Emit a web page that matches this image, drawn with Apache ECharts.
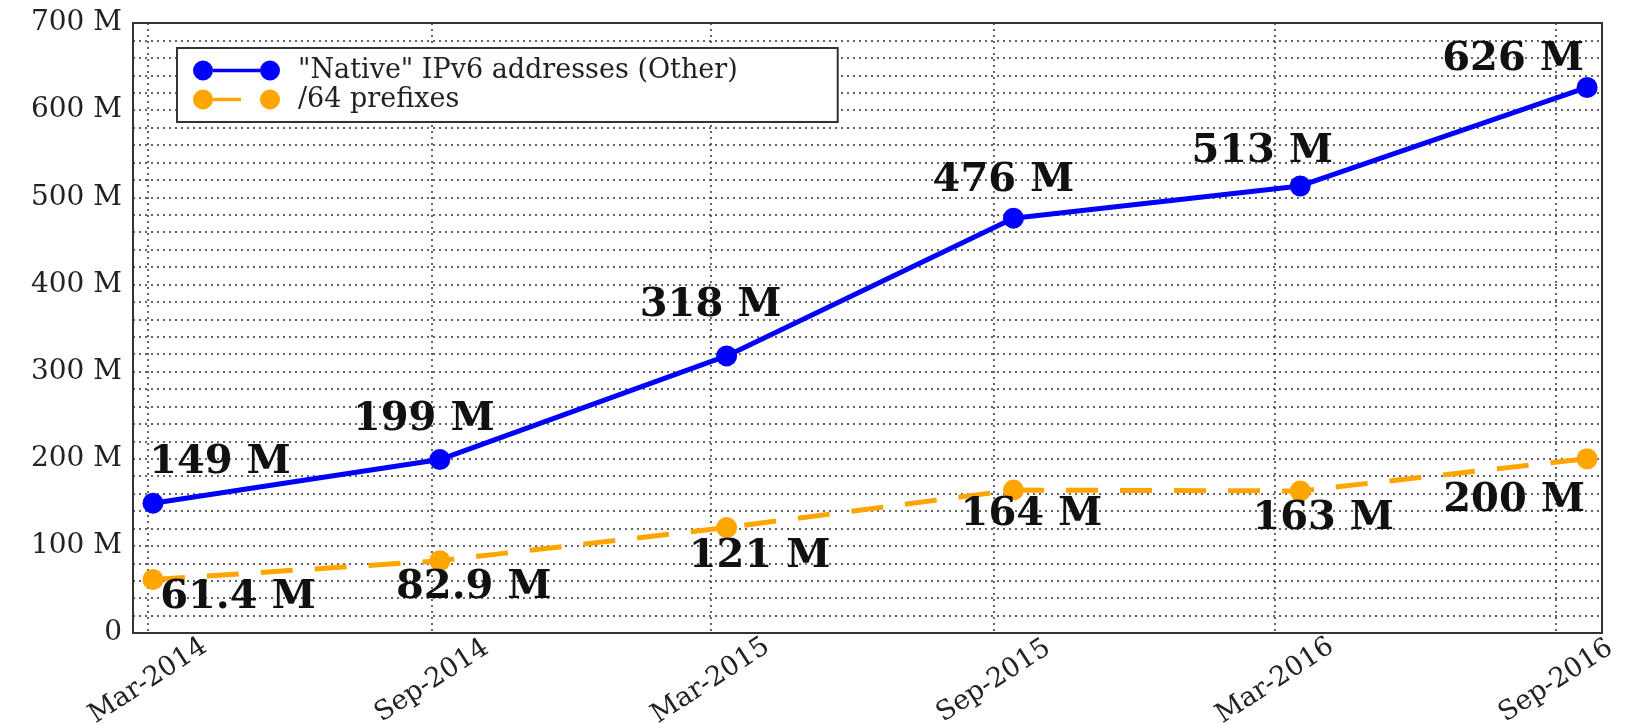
<!DOCTYPE html>
<html>
<head>
<meta charset="utf-8">
<script src="https://cdn.jsdelivr.net/npm/echarts@6/dist/echarts.min.js"></script>
<style>
  html, body { margin: 0; padding: 0; background: #fff; }
  #chart { width: 1625px; height: 724px; }
</style>
</head>
<body>
<div id="chart"></div>
<script>
// dates of the snapshots
var months = ["Mar-2014", "Sep-2014", "Mar-2015", "Sep-2015", "Mar-2016", "Sep-2016"];
// the month ticks sit a little before each snapshot point (in point-index units)
var monthTicks = [-0.017, 0.973, 1.944, 2.931, 3.912, 4.892];
// values in millions
var nativeAddr = [149, 199, 318, 476, 513, 626];
var prefixes64 = [61.4, 82.9, 121, 164, 163, 200];
var nativeText = ["149 M", "199 M", "318 M", "476 M", "513 M", "626 M"];
var prefixText = ["61.4 M", "82.9 M", "121 M", "164 M", "163 M", "200 M"];
var yTicks = [0, 100, 200, 300, 400, 500, 600, 700];

var FONT = "DejaVu Serif";

// where each value label sits relative to its point
var nativeShift = [[67, -41], [-16, -40], [-16, -50], [-10, -38], [-38, -34], [-74, -28]];
var prefixShift = [[85, 18], [34, 27], [33, 29], [18, 25], [23, 28], [-73, 42]];

function buildData(vals, texts, shifts) {
	var out = [];
	for (var i = 0; i < vals.length; i++) {
		out.push({
			value: [i, vals[i]],
			label: { formatter: texts[i], offset: shifts[i] }
		});
	}
	return out;
}

function monthName(v) {
	var best = 0;
	for (var i = 1; i < monthTicks.length; i++) {
		if (Math.abs(monthTicks[i] - v) < Math.abs(monthTicks[best] - v)) best = i;
	}
	return months[best];
}

var dotted = { color: '#333', width: 1.5, type: [2, 4] };

var chart = echarts.init(document.getElementById('chart'));
var opt = {
	animation: false,
	backgroundColor: '#fff',
	grid: {
		left: 133, top: 23, right: 23, bottom: 91,
		outerBoundsMode: 'none',
		containLabel: false,
		show: true, borderColor: '#333', borderWidth: 2, backgroundColor: 'transparent'
	},
	legend: {
		orient: 'vertical',
		left: 177, top: 48,
		backgroundColor: '#fff',
		borderColor: '#333', borderWidth: 2,
		padding: [9, 100, 9, 16],
		itemWidth: 87, itemHeight: 20, itemGap: 2,
		textStyle: { fontFamily: FONT, fontSize: 27, color: '#222', lineHeight: 26, padding: [0, 0, 0, 13] },
		data: [
			{ name: '"Native" IPv6 addresses (Other)',
			  icon: 'path://M0,10a10,10 0 1,0 20,0a10,10 0 1,0 -20,0Z M67,10a10,10 0 1,0 20,0a10,10 0 1,0 -20,0Z M20,8.3L67,8.3L67,11.7L20,11.7Z' },
			{ name: '/64 prefixes',
			  icon: 'path://M0,10a10,10 0 1,0 20,0a10,10 0 1,0 -20,0Z M67,10a10,10 0 1,0 20,0a10,10 0 1,0 -20,0Z M20,8.3L48,8.3L48,11.7L20,11.7Z' }
		]
	},
	xAxis: {
		type: 'value',
		min: -0.0697, max: 5.052,
		axisLine: { show: false },
		axisTick: { show: false, customValues: monthTicks },
		splitLine: { show: true, lineStyle: dotted },
		axisLabel: {
			customValues: monthTicks,
			rotate: 33,
			align: 'center',
			verticalAlign: 'middle',
			margin: 48,
			fontFamily: FONT, fontSize: 27, color: '#222',
			formatter: monthName
		}
	},
	yAxis: {
		type: 'value',
		min: yTicks[0], max: yTicks[yTicks.length - 1], interval: 100,
		axisLine: { show: false },
		axisTick: { show: false },
		splitLine: { show: true, lineStyle: dotted },
		minorTick: { show: false, splitNumber: 5 },
		minorSplitLine: { show: true, lineStyle: dotted },
		axisLabel: {
			margin: 11,
			fontFamily: FONT, fontSize: 28, color: '#222',
			formatter: function (v) { return v === 0 ? '0' : v + ' M'; }
		}
	},
	series: [
		{
			name: '"Native" IPv6 addresses (Other)',
			type: 'line',
			color: '#0000ff',
			symbol: 'circle', symbolSize: 21,
			lineStyle: { width: 5, color: '#0000ff' },
			label: {
				show: true, position: 'inside',
				fontFamily: FONT, fontSize: 40, fontWeight: 'bold', color: '#111'
			},
			data: buildData(nativeAddr, nativeText, nativeShift),
			z: 3
		},
		{
			name: '/64 prefixes',
			type: 'line',
			color: '#ffa500',
			symbol: 'circle', symbolSize: 21,
			lineStyle: { width: 5, color: '#ffa500', type: [32, 22] },
			label: {
				show: true, position: 'inside',
				fontFamily: FONT, fontSize: 40, fontWeight: 'bold', color: '#111'
			},
			data: buildData(prefixes64, prefixText, prefixShift),
			z: 2
		}
	]
};
chart.setOption(opt);
</script>
</body>
</html>
